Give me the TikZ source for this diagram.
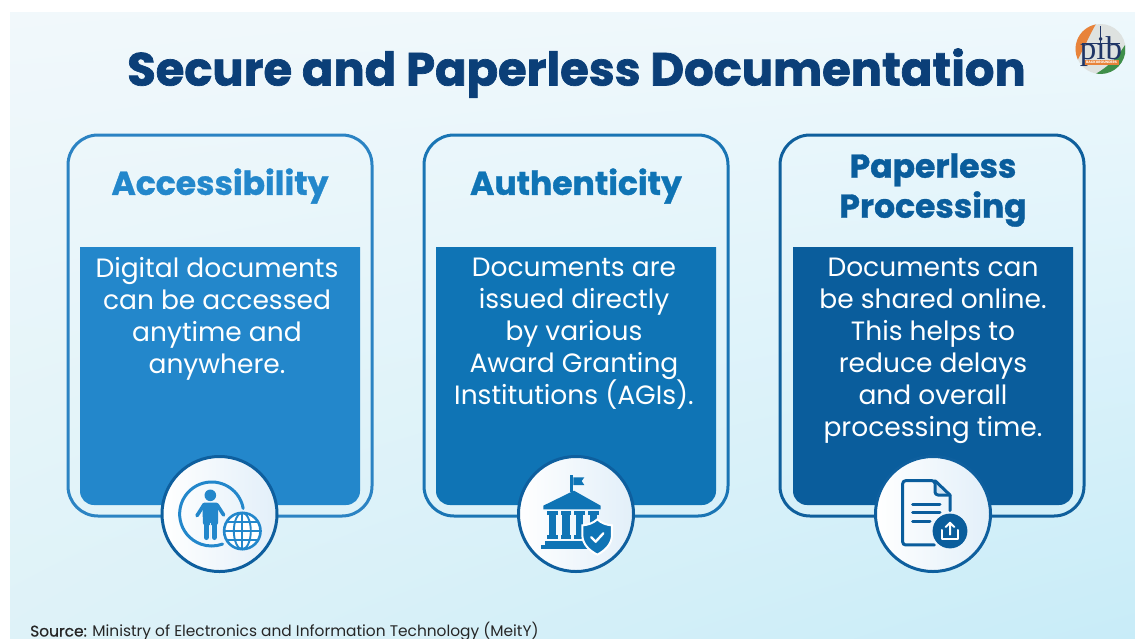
\documentclass[tikz,border=0pt]{standalone}
\usepackage{fontspec}
\setmainfont{Poppins}
\newfontfamily\logofont{Liberation Serif}
\usetikzlibrary{calc,shadings}
\definecolor{navy}{HTML}{0B3F78}
\definecolor{blueA}{HTML}{2387CB}
\definecolor{blueB}{HTML}{0F74B5}
\definecolor{blueC}{HTML}{0A5D9C}
\definecolor{edgeA}{HTML}{2B83C3}
\definecolor{edgeB}{HTML}{1A75B4}
\definecolor{edgeC}{HTML}{0F5F9C}
\definecolor{ring}{HTML}{0E5F9E}
\definecolor{bgUL}{HTML}{F1F8FB}
\definecolor{bgUR}{HTML}{EEF8FC}
\definecolor{bgLL}{HTML}{DEF2F8}
\definecolor{bgLR}{HTML}{C8ECF8}
\definecolor{circR}{HTML}{E2EFF9}
\definecolor{foldC}{HTML}{D2E4F3}
\definecolor{logoBg}{HTML}{DEE2E0}
\definecolor{logoO}{HTML}{E8833A}
\definecolor{logoG}{HTML}{3F8F4A}
\definecolor{logoN}{HTML}{1F3566}
\tikzset{
  cardbox/.style={draw=#1,line width=3pt,rounded corners=30pt,minimum width=304pt,minimum height=381pt,inner sep=0pt},
  headtext/.style={text=#1,font=\fontsize{33}{40}\bfseries\addfontfeature{FakeBold=1}\selectfont,align=center,inner sep=0pt},
  bodytext/.style={text=white,font=\fontsize{26.5}{32}\selectfont,align=center,inner sep=0pt},
  iconring/.style={circle,draw=ring,line width=3pt,left color=white,right color=circR,minimum size=115pt,inner sep=0pt},
  zoomA/.style={shift={(#1)},x=0.3333pt,y=-0.3333pt},
}
\begin{document}
\begin{tikzpicture}[x=1pt,y=-1pt]
\useasboundingbox (0,0) rectangle (1135,638);
\clip (0,0) rectangle (1135,638);
\fill[white] (0,0) rectangle (1135,638);
\shade[upper left=bgUL,upper right=bgUR,lower left=bgLL,lower right=bgLR] (10,12) rectangle (1135,638);
% title
\node[text=navy,font=\fontsize{46.4}{56}\bfseries\addfontfeature{FakeBold=1.5}\selectfont,inner sep=0pt,anchor=base] (title) at (576.5,85.5) {Secure and Paperless Documentation};
% cards
\node[cardbox=edgeA] (card1) at (220,325.5) {};
\node[cardbox=edgeB] (card2) at (576,325.5) {};
\node[cardbox=edgeC] (card3) at (932,325.5) {};
% panels
\fill[blueA] (80,247) -- (360,247) {[rounded corners=14pt] -- (360,505) -- (80,505)} -- cycle;
\fill[blueB] (436,247) -- (716,247) {[rounded corners=14pt] -- (716,505) -- (436,505)} -- cycle;
\fill[blueC] (793,247) -- (1073,247) {[rounded corners=14pt] -- (1073,505) -- (793,505)} -- cycle;
% headings
\node[headtext=blueA] (head1) at (220,186) {Accessibility};
\node[headtext=blueB] (head2) at (576,186) {Authenticity};
\node[headtext=blueC] (head3) at (933,190) {Paperless\\Processing};
% bodies
\node[bodytext,anchor=north] (body1) at (217,257.5) {Digital documents\\can be accessed\\anytime and\\anywhere.};
\node[bodytext,anchor=north] (body2) at (574,257.5) {Documents are\\issued directly\\by various\\Award Granting\\Institutions (AGIs).};
\node[bodytext,anchor=north] (body3) at (933,257.5) {Documents can\\be shared online.\\This helps to\\reduce delays\\and overall\\processing time.};
% circles
\node[iconring] (circ1) at (219.5,514) {};
\node[iconring] (circ2) at (576,514) {};
\node[iconring] (circ3) at (933,514) {};
% icon 1
\begin{scope}[zoomA={140,440},draw=blueA,fill=blueA]
  \draw[line width=3pt,line cap=round] (215,222) ++(10:32pt) arc[start angle=10,end angle=290,radius=32pt];
  \fill (211,166) circle[radius=5.8pt];
  \fill[rounded corners=2pt] (187,188) -- (235,188) -- (234,255) -- (189,255) -- cycle;
  \draw[line width=3.6pt,line cap=round,line join=round] (192,194) -- (171,227) (231,194) -- (251,225);
  \draw[line width=5.4pt,line cap=round] (199,250) -- (199,292) (223,250) -- (223,292);
  \draw[circR,line width=1pt] (211,250) -- (211,300);
  \draw[line width=2.6pt,fill=white] (307,273) circle[radius=18.2pt];
  \draw[line width=1.9pt] (307,273) ellipse[x radius=8.5pt,y radius=18.2pt];
  \draw[line width=1.9pt] (307,218) -- (307,328) (252,273) -- (362,273) (262,245) -- (352,245) (262,301) -- (352,301);
\end{scope}
% icon 2
\begin{scope}[zoomA={500,440},fill=blueB]
  \fill (211,105) rectangle (220,155);
  \fill (220,112) -- (253,112) -- (245,123) -- (253,135) -- (220,135) -- cycle;
  \fill (130,208) -- (130,197) -- (222,152) -- (302,197) -- (302,208) -- cycle;
  \foreach \c in {157,198,239,280} {
    \fill (\c-16,214) rectangle (\c+16,226);
    \fill (\c-11,226) rectangle (\c+11,286);
    \fill (\c-16,286) rectangle (\c+16,298);
  }
  \fill (134,302) rectangle (270,314);
  \fill (122,316) rectangle (270,328);
  \draw[white,line width=2pt,fill=blueB] (292,238) .. controls (305,250) and (320,255) .. (336,256) -- (336,285) .. controls (336,312) and (315,332) .. (292,344) .. controls (268,332) and (247,312) .. (247,285) -- (247,256) .. controls (263,255) and (279,250) .. (292,238) -- cycle;
  \draw[white,line width=2.4pt,line cap=round,line join=round] (274,292) -- (287,305) -- (310,280);
\end{scope}
% icon 3
\begin{scope}[zoomA={855,440},draw=blueC,fill=blueC]
  \fill[foldC] (240,126) -- (283,165) -- (240,165) -- cycle;
  \draw[line width=3pt,line join=round,line cap=round,rounded corners=3pt] (238,315) -- (143,315) -- (143,122) -- (240,122) -- (240,165) -- (285,165);
  \draw[line width=3pt,line join=round,line cap=round] (240,122) -- (285,165) -- (285,212);
  \draw[line width=3pt,line cap=round] (173,192) -- (255,192) (173,218) -- (255,218) (173,245) -- (225,245);
  \fill (285,273) circle[radius=17.4pt];
  \draw[white,line width=2pt,line cap=round,line join=round] (262,270) -- (262,297) -- (308,297) -- (308,270);
  \draw[white,line width=2pt,line cap=round,line join=round] (285,284) -- (285,249) (272,261) -- (285,248) -- (298,261);
\end{scope}
% logo
\node[circle,fill=logoBg,minimum size=50pt,inner sep=0pt] (logo) at (1100.5,49) {};
\fill[logoO] (logo.center) ++(100:25pt) arc[start angle=100,end angle=205,radius=25pt] .. controls (1086,44) and (1090,34) .. (1096,24) -- cycle;
\fill[logoG] (logo.center) ++(-10:25pt) arc[start angle=-10,end angle=-100,radius=25pt] .. controls (1112,64) and (1118,56) .. (1125,45) -- cycle;
\draw[logoN,line width=1pt] (1082,43) -- (1120,43) (1100,26) -- (1100,43);
\node[text=logoN,font=\logofont\fontsize{33}{33}\selectfont,inner sep=0pt,anchor=base] (pib) at (1101,59) {pib};
\node[fill=logoO,text=white,font=\fontsize{3.4}{4}\bfseries\selectfont,inner sep=0.8pt,minimum width=34pt] (band) at (1101.5,62.5) {BACKGROUNDERS};
% source
\node[anchor=base west,text=black!85,font=\fontsize{15.4}{17}\selectfont,inner sep=0pt] (source) at (30,636.5) {{\addfontfeature{FakeBold=0.6}Source:} Ministry of Electronics and Information Technology (MeitY)};
\end{tikzpicture}
\end{document}
